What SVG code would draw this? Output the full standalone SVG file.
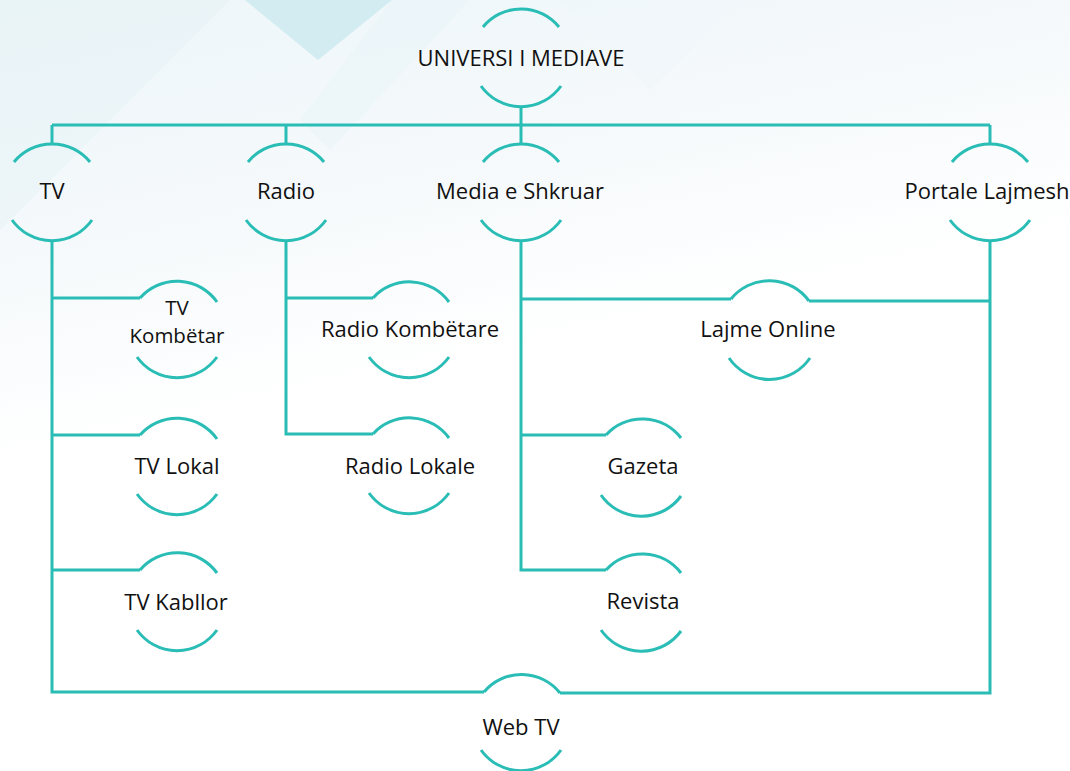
<svg xmlns="http://www.w3.org/2000/svg" width="1070" height="771" viewBox="0 0 1070 771">
<defs>
<linearGradient id="bg" x1="0" y1="0" x2="0.3" y2="1">
<stop offset="0" stop-color="#edf6f9"/>
<stop offset="0.3" stop-color="#f5f9fb"/>
<stop offset="0.55" stop-color="#ffffff"/>
</linearGradient>
<style>
.ln{fill:none;stroke:#2abdb6;stroke-width:3}
.arc{fill:none;stroke:#2abdb6;stroke-width:3;stroke-linecap:butt}
.t{font-family:"Open Sans","Noto Sans",sans-serif;font-size:22px;fill:#111111;text-anchor:middle}
.t2{font-size:20.5px}
</style>
</defs>
<rect width="1070" height="771" fill="url(#bg)"/>
<g id="background">
<polygon points="0,0 230,0 0,230" fill="#e6f2f6" opacity="0.5"/>
<polygon points="245,0 392,0 318,60" fill="#d2ecf1"/>
<polygon points="392,0 470,0 330,150 300,120" fill="#e8f4f7" opacity="0.5"/>
<polygon points="560,0 740,0 650,90" fill="#f0f7fa" opacity="0.6"/>
</g>
<g id="connectors">
<path class="ln" d="M521,107 V125 M52,125 H990 M52,125 V143 M286,125 V143 M521,125 V143 M990,125 V143"/>
<path class="ln" d="M52,241 V692 H484"/>
<path class="ln" d="M560,693 H990 V241"/>
<path class="ln" d="M52,298 H140 M52,435 H140 M52,570 H140"/>
<path class="ln" d="M286,241 V434 H373 M286,298 H373"/>
<path class="ln" d="M521,241 V570 H606 M521,435 H606 M521,299 H731 M809,301 H990"/>
</g>
<g id="n-universi">
<path class="arc" d="M483,27 A49,49 0 0 1 559,27"/>
<path class="arc" d="M481,86 A49,49 0 0 0 561,86"/>
<text class="t" x="521" y="66">UNIVERSI I MEDIAVE</text>
</g>
<g id="n-tv">
<path class="arc" d="M14,162 A49,49 0 0 1 90,162"/>
<path class="arc" d="M12,220 A49,49 0 0 0 92,220"/>
<text class="t" x="52" y="199">TV</text>
</g>
<g id="n-radio">
<path class="arc" d="M248,162 A49,49 0 0 1 324,162"/>
<path class="arc" d="M246,220 A49,49 0 0 0 326,220"/>
<text class="t" x="286" y="199">Radio</text>
</g>
<g id="n-media">
<path class="arc" d="M483,162 A49,49 0 0 1 559,162"/>
<path class="arc" d="M481,220 A49,49 0 0 0 561,220"/>
<text class="t" x="520" y="199">Media e Shkruar</text>
</g>
<g id="n-portale">
<path class="arc" d="M952,162 A49,49 0 0 1 1028,162"/>
<path class="arc" d="M950,220 A49,49 0 0 0 1030,220"/>
<text class="t" x="987" y="199">Portale Lajmesh</text>
</g>
<g id="n-tv-kombetar">
<path class="arc" d="M140,298 A49,49 0 0 1 217,302"/>
<path class="arc" d="M137,357 A49,49 0 0 0 217,357"/>
<text class="t t2" x="177" y="315">TV</text>
<text class="t t2" x="177" y="343">Kombëtar</text>
</g>
<g id="n-tv-lokal">
<path class="arc" d="M140,435 A49,49 0 0 1 217,439"/>
<path class="arc" d="M137,494 A49,49 0 0 0 217,494"/>
<text class="t" x="177" y="474">TV Lokal</text>
</g>
<g id="n-tv-kabllor">
<path class="arc" d="M140,570 A49,49 0 0 1 217,573"/>
<path class="arc" d="M137,630 A49,49 0 0 0 217,630"/>
<text class="t" x="176" y="610">TV Kabllor</text>
</g>
<g id="n-radio-kombetare">
<path class="arc" d="M373,298 A49,49 0 0 1 449,302"/>
<path class="arc" d="M369,357 A49,49 0 0 0 449,357"/>
<text class="t" x="410" y="337">Radio Kombëtare</text>
</g>
<g id="n-radio-lokale">
<path class="arc" d="M373,434 A49,49 0 0 1 449,438"/>
<path class="arc" d="M369,493 A49,49 0 0 0 449,493"/>
<text class="t" x="410" y="474">Radio Lokale</text>
</g>
<g id="n-lajme-online">
<path class="arc" d="M731,299 A49,49 0 0 1 809,301"/>
<path class="arc" d="M729,358 A49,49 0 0 0 810,358"/>
<text class="t" x="768" y="337">Lajme Online</text>
</g>
<g id="n-gazeta">
<path class="arc" d="M606,435 A49,49 0 0 1 681,438"/>
<path class="arc" d="M601,495 A49,49 0 0 0 681,496"/>
<text class="t" x="643" y="474">Gazeta</text>
</g>
<g id="n-revista">
<path class="arc" d="M606,570 A49,49 0 0 1 681,573"/>
<path class="arc" d="M601,630 A49,49 0 0 0 681,631"/>
<text class="t" x="643" y="609">Revista</text>
</g>
<g id="n-web-tv">
<path class="arc" d="M484,692 A49,49 0 0 1 560,693"/>
<path class="arc" d="M481,750 A49,49 0 0 0 561,750"/>
<text class="t" x="521" y="735">Web TV</text>
</g>
</svg>
